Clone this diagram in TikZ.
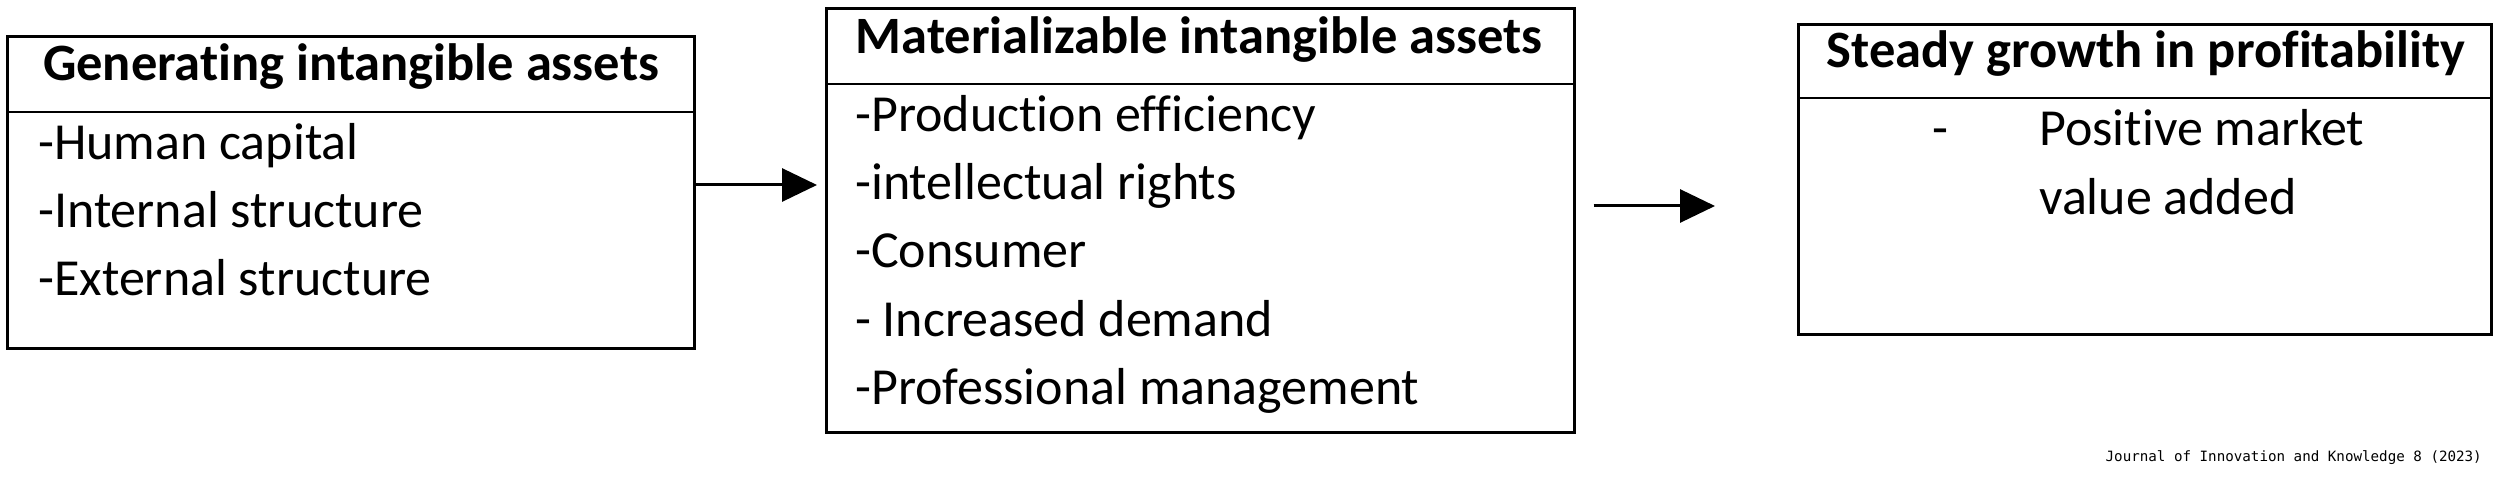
\documentclass[tikz,border=0pt]{standalone}
\usepackage{fontspec}
\setmainfont{Carlito}[Ligatures=NoCommon]
\newfontfamily\capfont{DejaVu Sans Mono}
\usetikzlibrary{arrows.meta}
\begin{document}
\begin{tikzpicture}[x=1pt,y=-1pt,
  box/.style={draw=black, line width=2.6pt, inner sep=0pt, anchor=north west},
  divider/.style={draw=black, line width=2.6pt},
  ttl/.style={font=\fontsize{52.5}{60}\selectfont\bfseries, anchor=base, inner sep=0pt},
  itm/.style={font=\fontsize{52}{60}\selectfont, anchor=base west, inner sep=0pt},
  arr/.style={-{Triangle[length=35pt,width=33pt]}, line width=3pt}]
\useasboundingbox (0,0) rectangle (2500,478);
% boxes
\node[box, minimum width=687pt, minimum height=312pt] (b1) at (6,35) {};
\node[box, minimum width=748pt, minimum height=424pt] (b2) at (825,7) {};
\node[box, minimum width=693pt, minimum height=310pt] (b3) at (1797,23) {};
% dividers
\coordinate (d1) at (0,112);
\coordinate (d2) at (0,84);
\coordinate (d3) at (0,98);
\draw[divider] (b1.west |- d1) -- (b1.east |- d1);
\draw[divider] (b2.west |- d2) -- (b2.east |- d2);
\draw[divider] (b3.west |- d3) -- (b3.east |- d3);
% titles
\node[ttl] (t1) at (351,81) {Generating intangible assets};
\node[ttl] (t2) at (1199,54) {Materializable intangible assets};
\node[ttl] (t3) at (2146,68) {Steady growth in profitability};
% box 1 items
\node[itm] (i11) at (38,160) {-Human capital};
\node[itm] (i12) at (38,228) {-Internal structure};
\node[itm] (i13) at (38,296) {-External structure};
% box 2 items
\node[itm] (i21) at (855,132) {-Production efficiency};
\node[itm] (i22) at (855,200) {-intellectual rights};
\node[itm] (i23) at (855,268) {-Consumer};
\node[itm] (i24) at (855,336) {- Increased demand};
\node[itm] (i25) at (855,404) {-Professional management};
% box 3 items
\node[itm, anchor=base] (i31) at (1940,146) {-};
\node[itm] (i32) at (2039,146) {Positive market};
\node[itm] (i33) at (2039,215) {value added};
% arrows
\coordinate (a1) at (0,185);
\coordinate (a2) at (0,206);
\draw[arr, shorten >=8pt] (b1.east |- a1) -- (b2.west |- a1);
\draw[arr, shorten <=18pt, shorten >=82pt] (b2.east |- a2) -- (b3.west |- a2);
% caption
\node[font=\capfont\fontsize{14.2}{16}\selectfont, anchor=base east, inner sep=0pt] (cap) at (2482,461) {Journal of Innovation and Knowledge 8 (2023)};
\end{tikzpicture}
\end{document}
